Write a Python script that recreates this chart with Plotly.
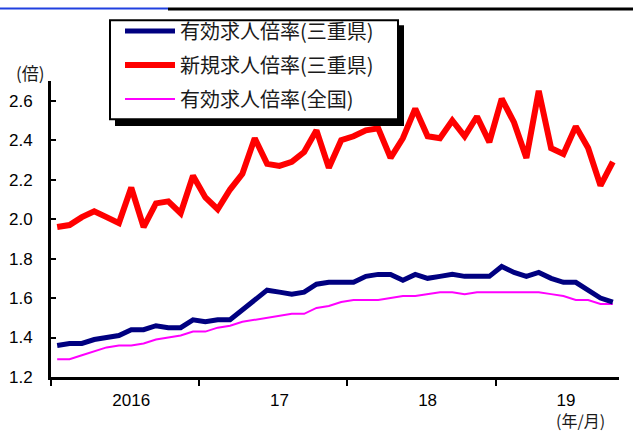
import plotly.graph_objects as go

# ---- data ----
months = [f"{y}/{m}" for y in range(2016, 2020) for m in range(1, 13)][:46]

mie_active = [1.36, 1.37, 1.37, 1.39, 1.40, 1.41, 1.44, 1.44, 1.46, 1.45, 1.45, 1.49,
              1.48, 1.49, 1.49, 1.54, 1.59, 1.64, 1.63, 1.62, 1.63, 1.67, 1.68, 1.68,
              1.68, 1.71, 1.72, 1.72, 1.69, 1.72, 1.70, 1.71, 1.72, 1.71, 1.71, 1.71,
              1.76, 1.73, 1.71, 1.73, 1.70, 1.68, 1.68, 1.64, 1.60, 1.58]

mie_new = [1.96, 1.97, 2.01, 2.04, 2.01, 1.98, 2.16, 1.96, 2.08, 2.09, 2.03, 2.22,
           2.11, 2.05, 2.15, 2.23, 2.41, 2.28, 2.27, 2.29, 2.34, 2.45, 2.26, 2.40,
           2.42, 2.45, 2.46, 2.31, 2.41, 2.56, 2.42, 2.41, 2.50, 2.42, 2.52, 2.39,
           2.61, 2.49, 2.31, 2.65, 2.36, 2.33, 2.47, 2.36, 2.17, 2.29]

national = [1.29, 1.29, 1.31, 1.33, 1.35, 1.36, 1.36, 1.37, 1.39, 1.40, 1.41, 1.43,
            1.43, 1.45, 1.46, 1.48, 1.49, 1.50, 1.51, 1.52, 1.52, 1.55, 1.56, 1.58,
            1.59, 1.59, 1.59, 1.60, 1.61, 1.61, 1.62, 1.63, 1.63, 1.62, 1.63, 1.63,
            1.63, 1.63, 1.63, 1.63, 1.62, 1.61, 1.59, 1.59, 1.57, 1.57]

names = ["有効求人倍率(三重県)", "新規求人倍率(三重県)", "有効求人倍率(全国)"]
year_tick_pos = [6, 18, 30, 41.2]
year_labels = ["2016", "17", "18", "19"]
year_bounds = [-0.5, 11.5, 23.5, 35.5]
y_ticks = [1.2, 1.4, 1.6, 1.8, 2.0, 2.2, 2.4, 2.6]

# ---- layout geometry (pixels) ----
W, H = 633, 434
L, R, T, B = 51, 14, 75, 57
PW, PH = W - L - R, H - T - B


def px(x):
    return (x - L) / PW


def py(y):
    return (H - B - y) / PH


xi = list(range(len(months)))
TXT = "Liberation Sans, Arial, Noto Sans CJK JP"
JP = "Noto Sans CJK JP"

fig = go.Figure()
fig.add_trace(go.Scatter(x=xi, y=national, mode="lines", name=names[2], legendgroup="c",
                         legendrank=3, line=dict(color="#FF00FF", width=2), customdata=months))
fig.add_trace(go.Scatter(x=xi, y=mie_active, mode="lines", name=names[0], legendgroup="a",
                         legendrank=1, line=dict(color="#000080", width=5), customdata=months))
fig.add_trace(go.Scatter(x=xi, y=mie_new, mode="lines", name=names[1], legendgroup="b",
                         legendrank=2, line=dict(color="#FF0000", width=6), customdata=months))

shapes = [
    # top decoration lines
    dict(type="line", xref="paper", yref="paper", x0=px(0), x1=px(168), y0=py(1), y1=py(1),
         line=dict(color="#2040E0", width=2), layer="above"),
    dict(type="line", xref="paper", yref="paper", x0=px(168), x1=px(633), y0=py(1.5), y1=py(1.5),
         line=dict(color="black", width=3), layer="above"),
    # legend shadow and box
    dict(type="rect", xref="paper", yref="paper", x0=px(115), x1=px(404), y0=py(121), y1=py(18),
         fillcolor="black", line=dict(width=0), layer="above"),
    dict(type="rect", xref="paper", yref="paper", x0=px(110), x1=px(398), y0=py(114), y1=py(13),
         fillcolor="white", line=dict(color="black", width=2), layer="above"),
]

fig.update_layout(
    width=W, height=H, autosize=False,
    margin=dict(l=L, r=R, t=T, b=B, pad=0),
    paper_bgcolor="white", plot_bgcolor="white",
    shapes=shapes,
    showlegend=True,
    legend=dict(x=px(120), y=py(4), xanchor="left", yanchor="top",
                bgcolor="rgba(0,0,0,0)", borderwidth=0, itemwidth=50,
                font=dict(family=JP, size=20, color="#1a1a1a"),
                traceorder="grouped", tracegroupgap=5),
    xaxis=dict(range=[-0.5, 45.5], showgrid=False, zeroline=False, automargin=False,
               showline=True, linecolor="black", linewidth=3,
               tickmode="array", tickvals=year_tick_pos, ticktext=year_labels,
               ticks="", ticklabelstandoff=6,
               tickfont=dict(family=TXT, size=17, color="black"),
               minor=dict(tickvals=year_bounds, ticks="outside", ticklen=6,
                          tickwidth=2, tickcolor="black", showgrid=False)),
    yaxis=dict(range=[1.2, 2.7], showgrid=False, zeroline=False, automargin=False,
               showline=True, linecolor="black", linewidth=3,
               tickmode="array", tickvals=y_ticks, tickformat=".1f",
               ticks="inside", ticklen=5, tickwidth=2, tickcolor="black",
               ticklabelstandoff=12,
               tickfont=dict(family=TXT, size=17, color="black")),
    annotations=[
        dict(text="(倍)", xref="paper", yref="paper", x=px(30), y=py(66),
             xanchor="center", yanchor="middle", showarrow=False,
             font=dict(family=JP, size=17, color="#1a1a1a")),
        dict(text="(年/月)", xref="paper", yref="paper", x=px(554), y=py(435),
             xanchor="left", yanchor="bottom", showarrow=False,
             font=dict(family=JP, size=16, color="#1a1a1a")),
    ],
)

fig.write_html("out.html", config={"displayModeBar": False},
               post_script="document.body.style.margin='0px';")
